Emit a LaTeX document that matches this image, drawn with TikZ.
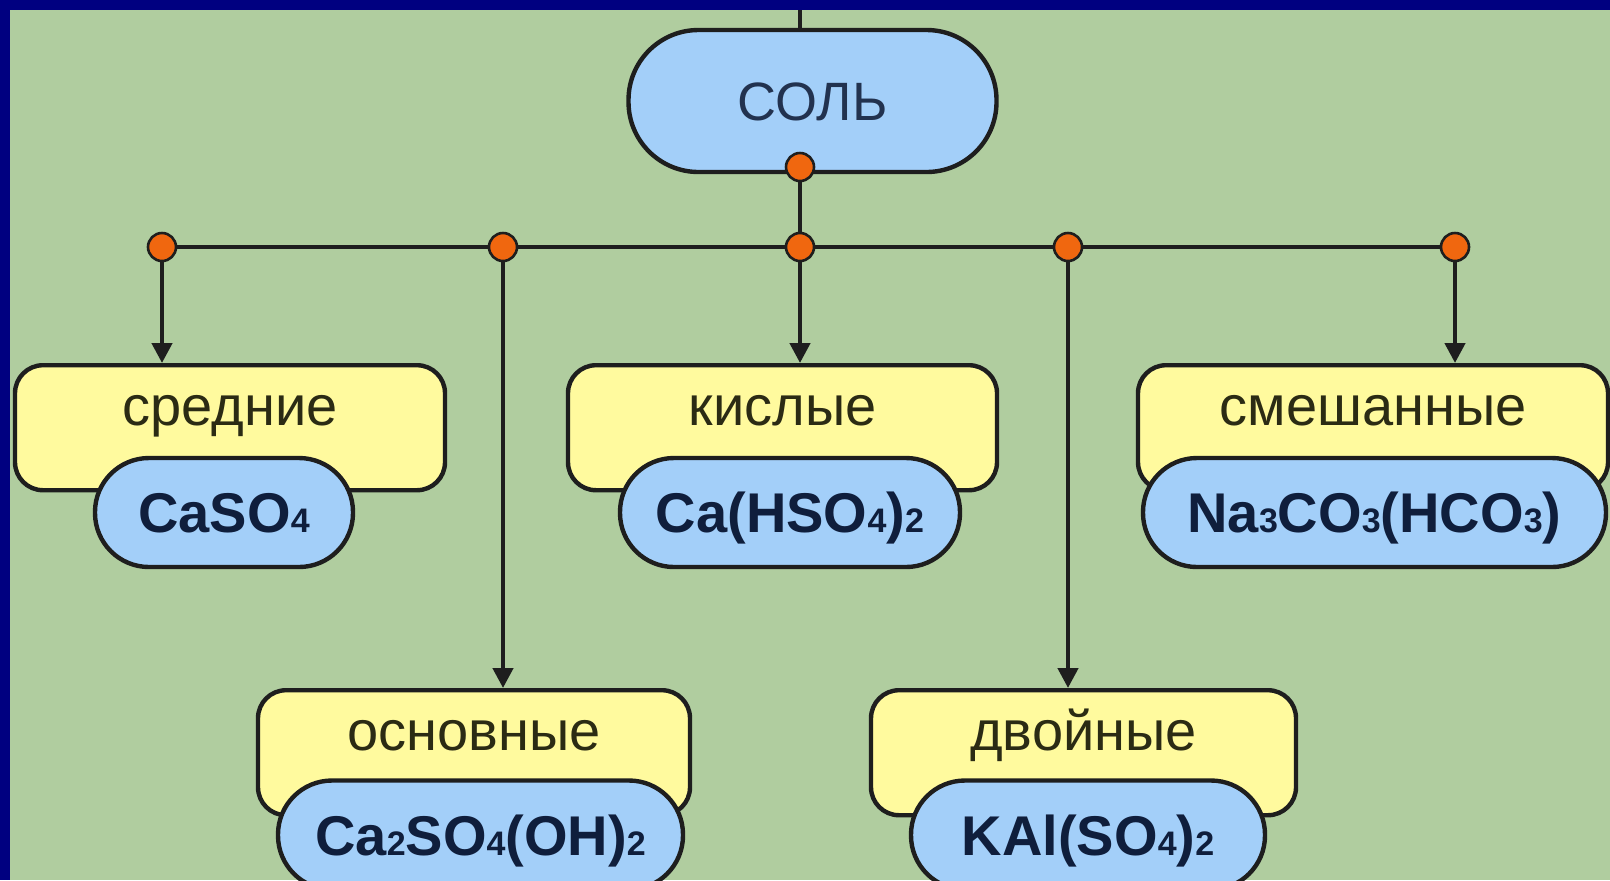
\documentclass[tikz,border=0pt]{standalone}
\usepackage{fontspec}
\setmainfont{Liberation Sans}
\usepackage{xcolor}
\usepackage{tikz}
\usetikzlibrary{shapes,arrows.meta,positioning}

\definecolor{bggreen}{HTML}{B0CD9F}
\definecolor{frameblue}{HTML}{000080}
\definecolor{boxyellow}{HTML}{FFFA9E}
\definecolor{boxblue}{HTML}{A3CFF9}
\definecolor{dotorange}{HTML}{F0670F}
\definecolor{edge}{HTML}{1E1E1E}
\definecolor{labeltext}{HTML}{2B2B14}
\definecolor{formulatext}{HTML}{0F1E3C}
\definecolor{roottext}{HTML}{22324F}

\newcommand{\chemsub}[1]{{\fontsize{17}{17}\selectfont #1}}

\begin{document}
\begin{tikzpicture}[x=0.5pt,y=-0.5pt,every node/.style={font=\fontsize{28}{30}\selectfont}]
  \tikzstyle{root} = [rectangle, draw=edge, line width=2.2pt, fill=boxblue,
      rounded corners=35pt, minimum width=184pt, minimum height=71pt,
      text height=19.5pt, text depth=0pt, text=roottext,
      font=\fontsize{27}{30}\selectfont]
  \tikzstyle{kind} = [rectangle, draw=edge, line width=2.2pt, fill=boxyellow,
      rounded corners=14pt, inner sep=0pt, text height=30pt, text depth=32.5pt,
      text=labeltext, anchor=north]
  \tikzstyle{formula} = [rectangle, draw=edge, line width=2.2pt, fill=boxblue,
      rounded corners=27pt, minimum height=54.5pt, inner xsep=0pt,
      text height=20pt, text depth=0pt, text=formulatext,
      font=\fontsize{28}{30}\selectfont\bfseries]
  \tikzstyle{dot} = [circle, draw=edge, line width=1.3pt, fill=dotorange,
      minimum size=14pt, inner sep=0pt]
  \tikzstyle{arrow} = [-{Triangle[length=10pt,width=10pt]}, line width=2.2pt, edge]

  % background and the frame (coordinates in pixels of the slide, y downwards)
  \clip (0,0) rectangle (1610,880);
  \fill[bggreen] (0,0) rectangle (1610,880);
  \fill[frameblue] (0,0) rectangle (1610,10);
  \fill[frameblue] (0,0) rectangle (10,880);

  \coordinate (top) at (800,10);
  \node (sol) [root] at (812.5,101) {СОЛЬ};

  % first row of kinds, second row below the gaps
  \node (sredn)  [kind, minimum width=215pt]     at (230,363)    {средние};
  \node (caso)   [formula, minimum width=129pt]  at (224,512.5)  {CaSO\chemsub{4}};
  \node (kisl)   [kind, minimum width=214.5pt]   at (782.5,363)  {кислые};
  \node (cahso)  [formula, minimum width=170pt]  at (790,512.5)  {Ca(HSO\chemsub{4})\chemsub{2}};
  \node (smesh)  [kind, minimum width=235pt]     at (1373,363)   {смешанные};
  \node (nahco)  [formula, minimum width=231.5pt] at (1374.5,512.5) {Na\chemsub{3}CO\chemsub{3}(HCO\chemsub{3})};
  \node (osn)    [kind, minimum width=216pt]     at (474,688)    {основные};
  \node (caoh)   [formula, minimum width=202.5pt] at (480.5,835) {Ca\chemsub{2}SO\chemsub{4}(OH)\chemsub{2}};
  \node (dvoin)  [kind, minimum width=212.5pt]   at (1083.5,688) {двойные};
  \node (kal)    [formula, minimum width=177pt]  at (1088,835)   {KAl(SO\chemsub{4})\chemsub{2}};

  % junction dots
  \node (d0) [dot] at (800,167) {};
  \node (d1) [dot] at (162,247) {};
  \node (d2) [dot] at (503,247) {};
  \node (d3) [dot] at (800,247) {};
  \node (d4) [dot] at (1068,247) {};
  \node (d5) [dot] at (1455,247) {};

  \draw[edge, line width=2.2pt] (top) -- (top |- sol.north);
  \draw[edge, line width=2.2pt] (d0) -- (d3);
  \draw[edge, line width=2.2pt] (d1) -- (d2) -- (d3) -- (d4) -- (d5);
  \draw[arrow] (d1) -- (d1 |- sredn.north);
  \draw[arrow] (d2) -- (d2 |- osn.north);
  \draw[arrow] (d3) -- (d3 |- kisl.north);
  \draw[arrow] (d4) -- (d4 |- dvoin.north);
  \draw[arrow] (d5) -- (d5 |- smesh.north);
\end{tikzpicture}
\end{document}
